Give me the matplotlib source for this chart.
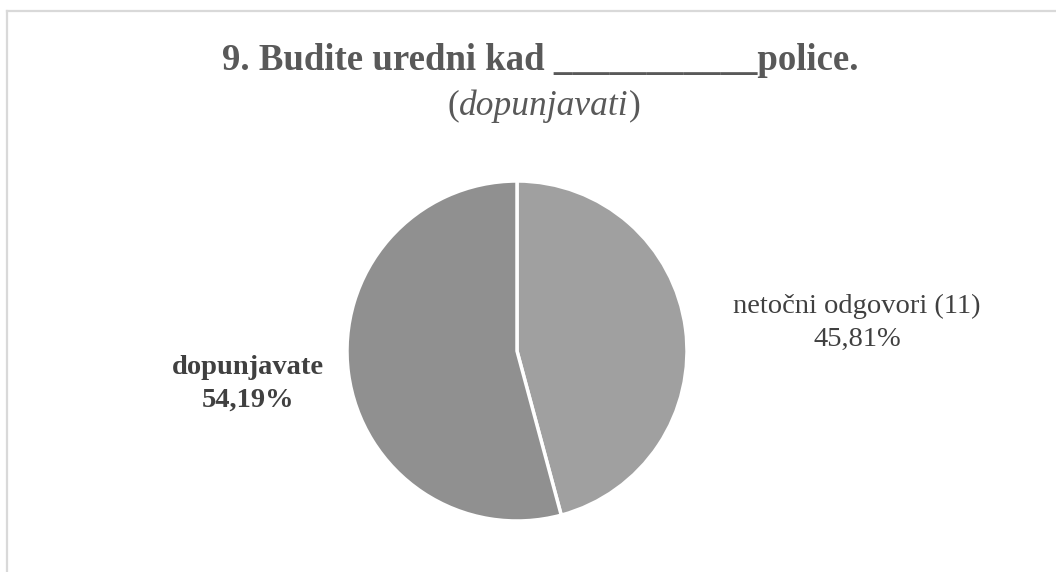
import matplotlib
matplotlib.use("Agg")
import matplotlib.pyplot as plt
from matplotlib.lines import Line2D

# data
labels = ["netočni odgovori (11)", "dopunjavate"]
values = [45.81, 54.19]
colors = ["#a0a0a0", "#909090"]
pct_text = ["45,81%", "54,19%"]

plt.rcParams['font.family'] = ['Liberation Serif', 'DejaVu Serif']

fig = plt.figure(figsize=(10.56, 5.72), dpi=100)
W, H = 1056, 572

# light border (top and left visible)
fig.add_artist(Line2D([7 / W, 7 / W], [0, 1 - 11 / H], color="#d9d9d9", lw=1.6, transform=fig.transFigure))
fig.add_artist(Line2D([7 / W, 1], [1 - 11 / H, 1 - 11 / H], color="#d9d9d9", lw=1.6, transform=fig.transFigure))

# pie axes: center (517, 351), radius 170 px
cx, cy, r = 517, 351, 170
ax = fig.add_axes([(cx - r) / W, (H - cy - r) / H, 2 * r / W, 2 * r / H])
ax.pie(values, colors=colors, startangle=90, counterclock=False,
       wedgeprops=dict(edgecolor="white", linewidth=2.5))
ax.set_xlim(-1, 1)
ax.set_ylim(-1, 1)
ax.set_aspect("equal")
ax.axis("off")

# title
tcol = "#595959"
fig.text(540 / W, 1 - 61 / H, "9. Budite uredni kad ___________police.",
         ha="center", va="center", fontsize=26.5, fontweight="bold", color=tcol)

renderer = fig.canvas.get_renderer()
parts = [("(", "normal"), ("dopunjavati", "italic"), (")", "normal")]
widths = []
tmp = []
for s, st in parts:
    t = fig.text(0, 0, s, fontsize=25.5, style=st, color=tcol)
    widths.append(t.get_window_extent(renderer).width)
    tmp.append(t)
x0 = 544 - sum(widths) / 2
for t, w in zip(tmp, widths):
    t.set_position((x0 / W, 1 - 106 / H))
    t.set_va("center")
    x0 += w

# data labels
lcol = "#404040"
fig.text(857 / W, 1 - 323 / H, labels[0] + "\n" + pct_text[0], ha="center", va="center",
         fontsize=20.5, color=lcol, linespacing=1.4)
fig.text(248 / W, 1 - 384 / H, labels[1] + "\n" + pct_text[1], ha="center", va="center",
         fontsize=20.5, fontweight="bold", color=lcol, linespacing=1.4)

fig.savefig("out.png", dpi=100)
